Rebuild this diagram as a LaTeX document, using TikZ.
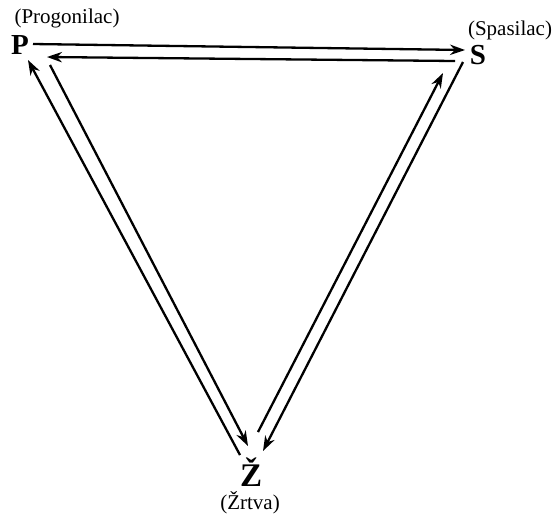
\documentclass[tikz,border=0pt]{standalone}
\usepackage{fontspec}
\setmainfont{Liberation Serif}
\usetikzlibrary{arrows.meta, positioning, calc}

\begin{document}
\begin{tikzpicture}[x=0.5pt, y=-0.5pt, >={Stealth[length=7.5pt,width=5.2pt]}, line width=1.15pt,
    vertex/.style={inner sep=0pt, font=\fontsize{14.5}{16}\selectfont\bfseries},
    role/.style={inner sep=0pt, font=\fontsize{10.5}{12}\selectfont}]
        \useasboundingbox (0,0) rectangle (555,521);
        % Vertices
        \node[vertex] (P) at (20,45) {P};
        \node[vertex] (S) at (478,55) {S};
        \node[vertex, font=\fontsize{16.5}{18}\selectfont\bfseries] (Z) at (251,472) {Ž};
        \node[role] (progonilac) at (67,18) {(Progonilac)};
        \node[role] (spasilac) at (510,30) {(Spasilac)};
        \node[role] (zrtva) at (250,503) {(Žrtva)};
        
        % P -- S
        \draw[->] ([shift={(13,-1)}]P.center) -- ([shift={(-13,-5)}]S.center);
        \draw[->] ([shift={(-23,6)}]S.center) -- ([shift={(27,12)}]P.center);
        % P -- Z
        \draw[->] ([shift={(-11,-17)}]Z.center) -- ([shift={(8,15)}]P.center);
        \draw[->] ([shift={(30,20)}]P.center) -- ([shift={(-3,-26)}]Z.center);
        % S -- Z
        \draw[->] ([shift={(7,-40)}]Z.center) -- ([shift={(-35,18)}]S.center);
        \draw[->] ([shift={(-15,7)}]S.center) -- ([shift={(12,-21)}]Z.center);
    \end{tikzpicture}
\end{document}
